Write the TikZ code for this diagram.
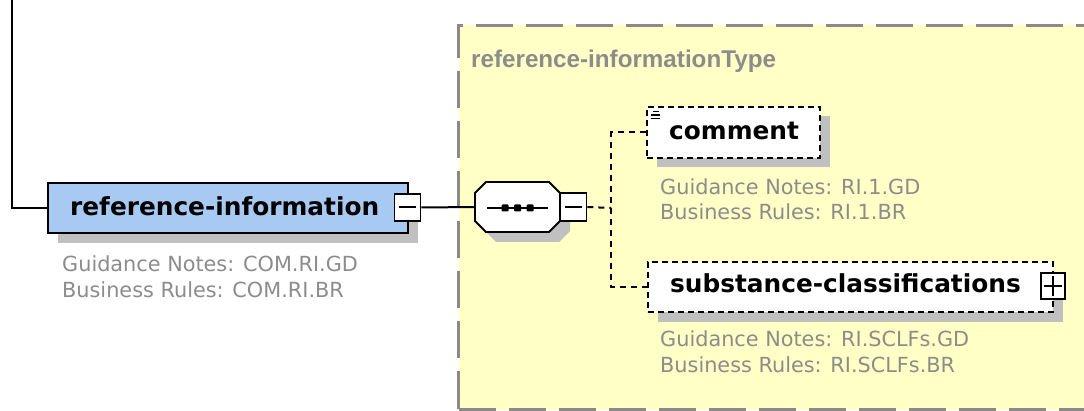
\documentclass[tikz,border=0pt]{standalone}
\usepackage{fontspec}
\setmainfont{DejaVu Sans}
\newfontfamily\titlefont{Liberation Sans}
\definecolor{elblue}{RGB}{168,202,242}
\definecolor{typeyellow}{RGB}{255,255,198}
\definecolor{shadowgray}{RGB}{192,192,192}
\definecolor{notegray}{RGB}{140,140,140}
\definecolor{bordergray}{RGB}{138,138,138}
\begin{document}
\begin{tikzpicture}[x=1pt,y=-1pt,
  lbl/.style={font=\fontsize{24.8}{28}\selectfont\bfseries, inner sep=0pt, anchor=base west},
  typelbl/.style={font=\titlefont\fontsize{24.2}{28}\selectfont\bfseries, text=notegray, inner sep=0pt, anchor=base west},
  note/.style={font=\fontsize{20.8}{25}\selectfont, text=notegray, inner sep=0pt, anchor=base west},
  elbox/.style={rectangle, inner sep=0pt, line width=2.2pt},
  optbox/.style={dash pattern=on 6pt off 4pt},
  pmbox/.style={rectangle, draw, fill=white, line width=1.8pt, inner sep=0pt, minimum width=26pt, minimum height=27pt},
  conn/.style={line width=2pt},
  dconn/.style={line width=2pt, dash pattern=on 6pt off 5pt}
]
\useasboundingbox (0,0) rectangle (1084,411);

% type container
\node[rectangle, fill=typeyellow, draw=bordergray, line width=3pt,
      dash pattern=on 37pt off 13pt, minimum width=660pt, minimum height=384pt,
      inner sep=0pt, anchor=north west] (typebox) at (457,24) {};
\node[typelbl] (typetitle) at (471,68) {reference-informationType};

% main element
\fill[shadowgray] (58,193) rectangle (418,243);
\node[elbox, draw, fill=elblue, minimum width=360pt, minimum height=50pt] (main) at (228,208) {};
\node[lbl] (mainlbl) at (70,216) {reference-information};
\node[pmbox] (mainm) at (407.5,207.5) {};
\draw[line width=2pt] ([xshift=5pt]mainm.west) -- ([xshift=-5pt]mainm.east);
\node[note] (mainn1) at (62,272) {Guidance Notes: COM.RI.GD};
\node[note] (mainn2) at (62,298) {Business Rules: COM.RI.BR};

% sequence compositor
\fill[shadowgray] (485,203) -- (496,192) -- (559,192) -- (570,203) -- (570,231) -- (559,242) -- (496,242) -- (485,231) -- cycle;
\node[rectangle, inner sep=0pt, minimum width=85pt, minimum height=50pt] (seq) at (517.5,207) {};
\draw[line width=1.8pt, fill=white] (475,193) -- (486,182) -- (549,182) -- (560,193) -- (560,221) -- (549,232) -- (486,232) -- (475,221) -- cycle;
\draw[line width=1.8pt] (487,208) -- (548,208);
\foreach \dx in {505,517.5,530}{
  \fill[rounded corners=1pt] (\dx-3.5,204.5) rectangle (\dx+3.5,211.5);
}
\node[pmbox, minimum height=28pt] (seqm) at (573.5,207) {};
\draw[line width=2pt] ([xshift=5pt]seqm.west) -- ([xshift=-5pt]seqm.east);
\coordinate (junc) at (611,208);

% comment element
\fill[shadowgray] (657,116) rectangle (830,167);
\node[elbox, draw, optbox, fill=white, minimum width=173pt, minimum height=51pt] (comment) at (733.5,132.5) {};
\draw[line width=1.5pt] (653,111.5) -- (659,111.5) (651,115) -- (660,115) (651,118.5) -- (660,118.5);
\node[lbl] (commentlbl) at (669,140) {comment};
\node[note] (commentn1) at (660,195) {Guidance Notes: RI.1.GD};
\node[note] (commentn2) at (660,220) {Business Rules: RI.1.BR};

% substance-classifications element
\fill[shadowgray] (658,272) rectangle (1063,322);
\node[elbox, draw, optbox, fill=white, minimum width=405pt, minimum height=50pt] (subst) at (850.5,287) {};
\node[lbl] (substlbl) at (670,293) {substance-classifications};
\node[pmbox, minimum width=24pt, minimum height=26pt] (substp) at (1053,286) {};
\draw[line width=2pt] ([xshift=4pt]substp.west) -- ([xshift=-4pt]substp.east)
                        ([yshift=-4pt]substp.north) -- ([yshift=4pt]substp.south);
\node[note] (substn1) at (660,347) {Guidance Notes: RI.SCLFs.GD};
\node[note] (substn2) at (660,373) {Business Rules: RI.SCLFs.BR};

% connectors
\coordinate (top) at (12,0);
\draw[conn] (top) |- (main.west);
\draw[conn] (mainm.east) -- (seq.west);
\draw[dconn] (seqm.east) -- (junc);
\draw[dconn] (comment.west) -| (junc) |- (subst.west);
\end{tikzpicture}
\end{document}
